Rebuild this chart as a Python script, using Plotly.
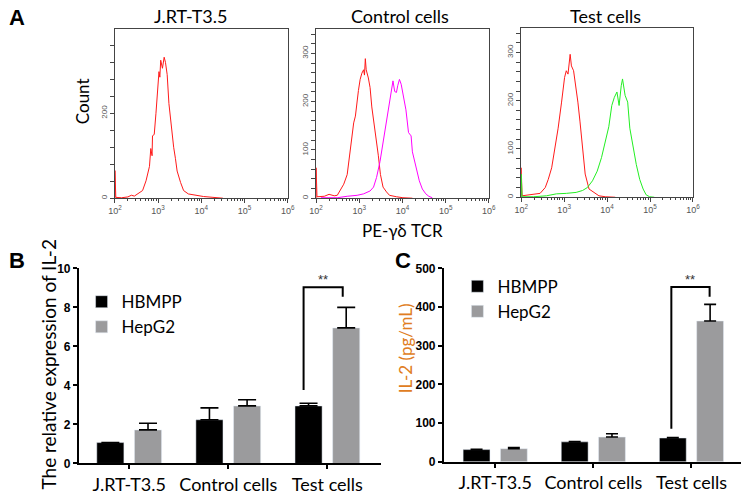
import plotly.graph_objects as go

W, H = 749, 495

# ---------------- data: flow cytometry histograms (log10 intensity, count) ----------------
jrt_log = [2.0, 2.0, 2.02, 2.15, 2.30, 2.38, 2.45, 2.53, 2.64, 2.72, 2.80, 2.83, 2.86, 2.87, 2.91, 2.95, 2.98,
           3.02, 3.04, 3.06, 3.10, 3.14, 3.17, 3.21, 3.25, 3.29, 3.33, 3.36, 3.40, 3.44, 3.52, 3.59, 3.70,
           3.86, 4.05, 4.27, 4.50]
jrt_cnt = [0, 65, 2, 1, 3, 7, 5, 10, 18, 41, 75, 117, 100, 147, 150, 200, 245, 298, 285, 325, 306, 332, 320,
           291, 223, 185, 139, 120, 94, 64, 37, 18, 10, 7, 4, 2, 0]

ctrl_red_log = [2.0, 2.0, 2.02, 2.19, 2.30, 2.42, 2.49, 2.57, 2.64, 2.72, 2.80, 2.83, 2.87, 2.91, 2.95, 2.98,
                3.02, 3.06, 3.10, 3.12, 3.14, 3.16, 3.21, 3.25, 3.29, 3.34, 3.39, 3.44, 3.49, 3.55, 3.63,
                3.70, 3.86, 4.01, 4.23]
ctrl_red_cnt = [0, 63, 3, 4, 8, 5, 6, 19, 29, 49, 103, 125, 156, 170, 203, 223, 246, 259, 266, 255, 289, 266,
                249, 229, 189, 156, 129, 89, 49, 23, 13, 6, 3, 1, 0]

ctrl_mag_log = [2.11, 2.49, 2.72, 2.95, 3.10, 3.25, 3.33, 3.40, 3.48, 3.55, 3.59, 3.63, 3.69, 3.74, 3.78, 3.82,
                3.86, 3.89, 3.93, 3.97, 4.01, 4.08, 4.14, 4.20, 4.23, 4.31, 4.39, 4.46, 4.54, 4.61, 4.69]
ctrl_mag_cnt = [1, 1, 4, 6, 9, 15, 23, 43, 76, 116, 130, 156, 196, 223, 243, 221, 219, 233, 246, 236, 216, 183,
                136, 129, 96, 69, 36, 19, 9, 4, 1]

test_red_log = [2.0, 2.0, 2.02, 2.29, 2.44, 2.56, 2.63, 2.71, 2.78, 2.86, 2.94, 3.01, 3.05, 3.09, 3.14, 3.17,
                3.22, 3.26, 3.32, 3.37, 3.43, 3.49, 3.58, 3.70, 3.81, 3.96, 4.19]
test_red_cnt = [0, 61, 3, 7, 8, 20, 37, 61, 99, 143, 197, 248, 262, 255, 296, 272, 262, 238, 197, 156, 102, 48,
                17, 10, 3, 1, 0]

test_grn_log = [2.0, 2.0, 2.02, 2.29, 2.59, 2.82, 3.05, 3.28, 3.43, 3.54, 3.66, 3.77, 3.87, 3.96, 4.04, 4.11,
                4.17, 4.23, 4.28, 4.33, 4.36, 4.42, 4.48, 4.53, 4.61, 4.68, 4.76, 4.84, 4.91, 4.99, 5.10]
test_grn_cnt = [0, 48, 1, 1, 3, 7, 8, 10, 14, 20, 34, 54, 82, 116, 146, 190, 207, 218, 190, 231, 245, 211, 197,
                143, 102, 68, 37, 17, 5, 1, 0]

flow_titles = ["J.RT-T3.5", "Control cells", "Test cells"]
decade_ticks = [1e2, 1e3, 1e4, 1e5, 1e6]
decade_text = ["10<sup>2</sup>", "10<sup>3</sup>", "10<sup>4</sup>", "10<sup>5</sup>", "10<sup>6</sup>"]

# ---------------- data: bar charts ----------------
groups = ["J.RT-T3.5", "Control cells", "Test cells"]
b_hbmpp = [1.07, 2.24, 2.95]
b_hbmpp_err = [0.0, 0.61, 0.14]
b_hepg2 = [1.72, 2.95, 6.95]
b_hepg2_err = [0.34, 0.32, 1.05]

c_hbmpp = [31.6, 51.6, 61.6]
c_hbmpp_err = [1.0, 0.5, 1.0]
c_hepg2 = [34.0, 64.0, 364.0]
c_hepg2_err = [2.6, 8.4, 43.0]

# significance brackets: (left x, left bottom y, top y, right x, right bottom y)
b_bracket = (1.76, 3.76, 9.04, 2.155, 8.55)
c_bracket = (1.795, 85.7, 452.0, 2.185, 427.0)

# ---------------- helpers ----------------
def px_x(p):
    return p / W

def px_y(p):
    return 1 - p / H

CAL = "Lato, 'Open Sans', sans-serif"
ARI = "'Liberation Sans', Arial, sans-serif"

fig = go.Figure()

flow_sets = [
    [(jrt_log, jrt_cnt, "#ff1a1a")],
    [(ctrl_red_log, ctrl_red_cnt, "#ff1a1a"), (ctrl_mag_log, ctrl_mag_cnt, "#ff00ff")],
    [(test_red_log, test_red_cnt, "#ff1a1a"), (test_grn_log, test_grn_cnt, "#22ee22")],
]
for i, sets in enumerate(flow_sets):
    ax = "" if i == 0 else str(i + 1)
    for lx, cnt, col in sets:
        fig.add_trace(go.Scatter(x=[10 ** v for v in lx], y=cnt, mode="lines",
                                 line=dict(color=col, width=1), showlegend=False,
                                 xaxis="x" + ax, yaxis="y" + ax, hoverinfo="skip"))

# bars B
fig.add_trace(go.Bar(x=groups, y=b_hbmpp, name="HBMPP", marker=dict(color="#000000"),
                     error_y=dict(type="data", array=b_hbmpp_err, arrayminus=[0, 0, 0], symmetric=False,
                                  color="#000000", thickness=1.6, width=9),
                     xaxis="x4", yaxis="y4", legend="legend"))
fig.add_trace(go.Bar(x=groups, y=b_hepg2, name="HepG2", marker=dict(color="#9b9b9d"),
                     error_y=dict(type="data", array=b_hepg2_err, arrayminus=[0, 0, 0], symmetric=False,
                                  color="#000000", thickness=1.6, width=9),
                     xaxis="x4", yaxis="y4", legend="legend"))
# bars C
fig.add_trace(go.Bar(x=groups, y=c_hbmpp, name="HBMPP", marker=dict(color="#000000"),
                     error_y=dict(type="data", array=c_hbmpp_err, arrayminus=[0, 0, 0], symmetric=False,
                                  color="#000000", thickness=1.6, width=6),
                     xaxis="x5", yaxis="y5", legend="legend2"))
fig.add_trace(go.Bar(x=groups, y=c_hepg2, name="HepG2", marker=dict(color="#9b9b9d"),
                     error_y=dict(type="data", array=c_hepg2_err, arrayminus=[0, 0, 0], symmetric=False,
                                  color="#000000", thickness=1.6, width=6),
                     xaxis="x5", yaxis="y5", legend="legend2"))

layout = dict(
    width=W, height=H, margin=dict(l=0, r=0, t=0, b=0),
    paper_bgcolor="white", plot_bgcolor="white",
    bargap=0.24, bargroupgap=0.28, barmode="group",
    font=dict(family=CAL, color="#000"),
    legend=dict(x=px_x(76), y=px_y(287), xanchor="left", yanchor="top",
                font=dict(family=CAL, size=17, color="#000"), bgcolor="rgba(0,0,0,0)"),
    legend2=dict(x=px_x(459), y=px_y(271), xanchor="left", yanchor="top",
                 font=dict(family=CAL, size=17, color="#000"), bgcolor="rgba(0,0,0,0)"),
)

flow_dom = [((110, 286), (23, 198), 398, 200, 40),
            ((315, 491), (23, 198), 350, 100, 20),
            ((524, 699), (22, 197), 350, 100, 20)]
minor_vals = [m * 10 ** d for d in range(2, 6) for m in range(2, 10)]
for i, ((x0, x1), (y0, y1), ymax, ydt, ymdt) in enumerate(flow_dom):
    k = "" if i == 0 else str(i + 1)
    layout["xaxis" + k] = dict(domain=[px_x(x0), px_x(x1)], type="log", range=[2, 6], anchor="y" + k,
                               showline=True, linecolor="#444", linewidth=1, mirror=True,
                               tickvals=decade_ticks, ticktext=decade_text, ticks="outside", ticklen=4,
                               tickcolor="#444", showgrid=False, zeroline=False,
                               tickfont=dict(family=ARI, size=9, color="#555"),
                               minor=dict(tickvals=minor_vals, ticks="outside", ticklen=2, tickcolor="#444",
                                          showgrid=False))
    layout["yaxis" + k] = dict(domain=[px_y(y1), px_y(y0)], range=[0, ymax], anchor="x" + k,
                               showline=True, linecolor="#444", linewidth=1, mirror=True,
                               dtick=ydt, ticks="outside", ticklen=4, tickcolor="#444", tickangle=-90,
                               showgrid=False, zeroline=False,
                               tickfont=dict(family=ARI, size=8, color="#555"),
                               minor=dict(dtick=ymdt, ticks="outside", ticklen=4, tickcolor="#444",
                                          showgrid=False))

bar_axes = [("4", (73, 381), (270.7, 472.7), [-0.51, 2.54], [0, 10], 2),
            ("5", (445, 748), (270.7, 471), [-0.525, 2.505], [0, 500], 100)]
for k, (x0, x1), (y0, y1), xr, yr, dt in bar_axes:
    layout["xaxis" + k] = dict(domain=[px_x(x0), px_x(x1)], range=xr, anchor="y" + k, type="category",
                               showline=True, linecolor="#000", linewidth=1.5, ticks="outside", ticklen=4,
                               tickwidth=1.5, tickcolor="#000", showgrid=False, zeroline=False,
                               tickfont=dict(family=CAL, size=18, color="#000"))
    layout["yaxis" + k] = dict(domain=[px_y(y1), px_y(y0)], range=yr, anchor="x" + k, dtick=dt,
                               showline=True, linecolor="#000", linewidth=1.5, ticks="outside", ticklen=4,
                               tickwidth=1.5, tickcolor="#000", showgrid=False, zeroline=False,
                               tickfont=dict(family=ARI, size=12, color="#000", weight="bold"))

fig.update_layout(**layout)

# brackets
shapes = []
for (lx, ly, ty, rx, ry), ax in [(b_bracket, "4"), (c_bracket, "5")]:
    shapes.append(dict(type="path", xref="x" + ax, yref="y" + ax,
                       path=f"M {lx},{ly} L {lx},{ty} L {rx},{ty} L {rx},{ry}",
                       line=dict(color="#000", width=2)))
fig.update_layout(shapes=shapes)

ann = []
def text(x, y, s, size, family=CAL, color="#000", angle=0, bold=False, xanchor="center"):
    ann.append(dict(x=px_x(x), y=px_y(y), xref="paper", yref="paper", text=(f"<b>{s}</b>" if bold else s),
                    showarrow=False, textangle=angle, xanchor=xanchor, yanchor="middle",
                    font=dict(family=family, size=size, color=color)))

text(10, 11, "A", 22, family=ARI, bold=True)
text(10, 263, "B", 22, family=ARI, bold=True)
text(404, 263, "C", 22, family=ARI, bold=True)
text(187, 9, flow_titles[0], 18)
text(400, 9, flow_titles[1], 18)
text(610, 9, flow_titles[2], 18)
text(77, 98, "Count", 17, angle=-90)
text(403, 231, "PE-γδ TCR", 17)
text(42, 370, "The relative expression of IL-2", 19, angle=-90)
text(406, 353, "IL-2 (pg/mL)", 17, angle=-90, color="#e07d22")
# significance stars
ann.append(dict(x=(b_bracket[0] + b_bracket[3]) / 2, y=9.44, xref="x4", yref="y4", text="**",
                showarrow=False, font=dict(family=ARI, size=13, color="#333")))
ann.append(dict(x=(c_bracket[0] + c_bracket[3]) / 2, y=471, xref="x5", yref="y5", text="**",
                showarrow=False, font=dict(family=ARI, size=13, color="#333")))
fig.update_layout(annotations=ann)

fig.write_html("out.html", config={"displayModeBar": False},
               post_script="document.body.style.margin='0';document.body.style.overflow='hidden';")
